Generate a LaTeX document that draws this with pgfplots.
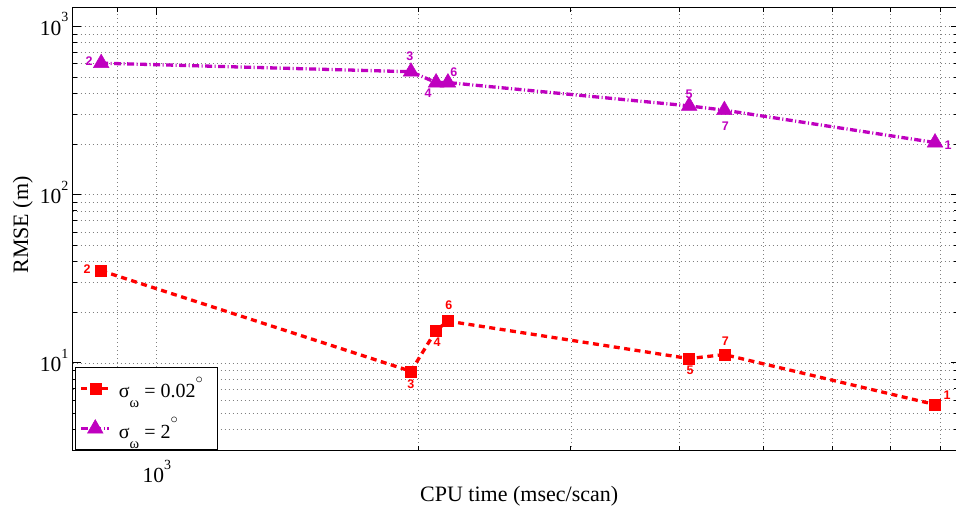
\documentclass[border=0pt]{standalone}
\usepackage{fontspec}
\setmainfont{Liberation Serif}
\newfontfamily\lblfont{Liberation Sans}
\usepackage{pgfplots}
\usepackage{pgfplotstable}
\pgfplotsset{compat=1.18}
\definecolor{mred}{rgb}{1,0,0}
\definecolor{mmag}{rgb}{0.75,0,0.75}
\newcommand{\tenpow}[1]{10\raisebox{0.62em}{\fontsize{14}{14}\selectfont #1}}
\newcommand{\sigw}{σ\raisebox{-0.5em}{\fontsize{14.5}{14}\selectfont ω}}
\newcommand{\degr}{\raisebox{0.72em}{\fontsize{13.5}{13}\selectfont$\circ$}}

\pgfplotstableread{
x y lab dx dy
863 35.3 2 -14 2
1963 8.91 3 0 -13
2098 15.6 4 1 -12
2165 17.7 6 1 16
4105 10.6 5 1 -12
4507 11.2 7 1 13
7881 5.65 1 12 9
}\redtab
\pgfplotstableread{
x y lab dx dy
863 605 2 -12 2
1963 538 3 -1 16
2098 464 4 -8 -11
2165 464 6 6 10
4105 337 5 0 12
4507 318 7 1 -16
7881 204 1 13 -3
}\magtab

\begin{document}
\begin{tikzpicture}
\useasboundingbox (-72.6pt,-59.2pt) rectangle (883.4pt,450.8pt);
\begin{axis}[
  at={(0pt,0pt)}, anchor=south west,
  scale only axis, width=886pt, height=443.5pt,
  xmode=log, ymode=log, log basis x=10, log basis y=10,
  xmin=800, xmax=8390, ymin=3, ymax=1300,
  xtick={1000}, xticklabels={\tenpow{3}},
  minor xtick={900,2000,3000,4000,5000,6000,7000,8000},
  ytick={10,100,1000}, yticklabels={\tenpow{1},\tenpow{2},\tenpow{3}},
  minor ytick={3,4,5,6,7,8,9,20,30,40,50,60,70,80,90,200,300,400,500,600,700,800,900},
  tick align=inside, major tick length=8pt, minor tick length=4.5pt,
  every tick/.style={black, line width=0.9pt},
  grid=both,
  major grid style={black!50, line width=0.6pt, dash pattern=on 1pt off 3pt},
  minor grid style={black!50, line width=0.6pt, dash pattern=on 1pt off 3pt},
  axis line style={line width=1.3pt},
  xticklabel style={font=\fontsize{21.5}{24}\selectfont, anchor=base, inner sep=0pt, yshift=-31.7pt},
  yticklabel style={font=\fontsize{21.5}{24}\selectfont, anchor=base east, inner sep=0pt, xshift=-4pt, yshift=-8.8pt},
  xlabel={CPU time (msec/scan)},
  xlabel style={font=\fontsize{22}{26}\selectfont, at={(axis description cs:0.504,-0.115)}, anchor=base, inner sep=0pt},
  ylabel={RMSE (m)},
  ylabel style={font=\fontsize{22}{26}\selectfont, at={(axis description cs:-0.0447,0.509)}, anchor=south, inner sep=0pt},
  legend style={at={(axis description cs:0,0)}, anchor=south west, xshift=2.5pt, yshift=0.5pt,
    draw=black, line width=1pt, fill=white, font=\fontsize{20}{22}\selectfont,
    inner xsep=4pt, inner ysep=8pt, row sep=14pt, column sep=6pt},
  legend cell align=left,
  legend image code/.code={\draw[mark repeat=2,mark phase=2] plot coordinates {(0pt,0pt) (14pt,0pt) (28pt,0pt)};},
]
\addplot[color=mred, line width=3.3pt, dash pattern=on 6pt off 4.5pt,
  mark=square*, mark size=5.5pt, mark options={solid, line width=0.5pt, fill=mred},
  point meta=explicit symbolic, nodes near coords,
  visualization depends on={\thisrow{dx}\as\dx},
  visualization depends on={\thisrow{dy}\as\dy},
  nodes near coords style={anchor=center, xshift=\dx, yshift=\dy, font={\lblfont\bfseries\fontsize{12.5}{14}\selectfont}, text=mred, inner sep=0pt}
] table[x=x, y=y, meta=lab] {\redtab};
\addlegendentry{\sigw{} = 0.02\degr\rule{9pt}{0pt}}
\addplot[color=mmag, line width=3.3pt, dash pattern=on 7pt off 2.5pt on 1pt off 2.5pt,
  mark=triangle*, mark size=9pt, mark options={solid, line width=0.5pt, fill=mmag},
  point meta=explicit symbolic, nodes near coords,
  visualization depends on={\thisrow{dx}\as\dx},
  visualization depends on={\thisrow{dy}\as\dy},
  nodes near coords style={anchor=center, xshift=\dx, yshift=\dy, font={\lblfont\bfseries\fontsize{12.5}{14}\selectfont}, text=mmag, inner sep=0pt}
] table[x=x, y=y, meta=lab] {\magtab};
\addlegendentry{\sigw{} = 2\degr}
\end{axis}
\end{tikzpicture}
\end{document}
